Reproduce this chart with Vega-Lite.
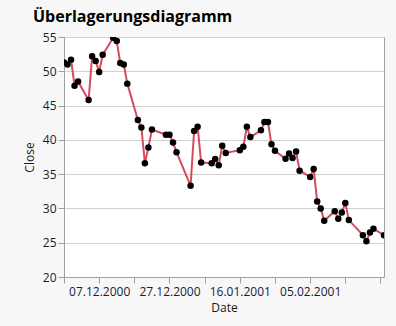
{
  "$schema": "https://vega.github.io/schema/vega-lite/v6.json",
  "width": 320,
  "height": 240,
  "autosize": {"type": "none"},
  "padding": {"left": 64, "top": 37, "right": 12, "bottom": 49},
  "background": "#f7f7f7",
  "title": {
    "text": "Überlagerungsdiagramm",
    "anchor": "start",
    "frame": "group",
    "dx": -31,
    "offset": 6,
    "font": "Open Sans",
    "fontSize": 16,
    "fontWeight": "bold",
    "color": "#000000"
  },
  "config": {
    "view": {"fill": "white", "stroke": "#a0a0a0", "strokeWidth": 1},
    "axis": {
      "labelFont": "Open Sans",
      "labelFontSize": 12,
      "labelColor": "#1a1a3a",
      "titleFont": "Open Sans",
      "titleFontSize": 12,
      "titleFontWeight": "normal",
      "titleColor": "#1a1a1a",
      "domainColor": "#a0a0a0",
      "tickColor": "#a0a0a0",
      "gridColor": "#d0d0d0"
    }
  },
  "data": {
    "values": [
      {"Date": "2000-11-27", "Close": 51.3},
      {"Date": "2000-11-28", "Close": 51.0},
      {"Date": "2000-11-29", "Close": 51.7},
      {"Date": "2000-11-30", "Close": 47.9},
      {"Date": "2000-12-01", "Close": 48.5},
      {"Date": "2000-12-04", "Close": 45.8},
      {"Date": "2000-12-05", "Close": 52.2},
      {"Date": "2000-12-06", "Close": 51.5},
      {"Date": "2000-12-07", "Close": 49.9},
      {"Date": "2000-12-08", "Close": 52.4},
      {"Date": "2000-12-11", "Close": 54.9},
      {"Date": "2000-12-12", "Close": 54.4},
      {"Date": "2000-12-13", "Close": 51.2},
      {"Date": "2000-12-14", "Close": 51.0},
      {"Date": "2000-12-15", "Close": 48.2},
      {"Date": "2000-12-18", "Close": 42.9},
      {"Date": "2000-12-19", "Close": 41.8},
      {"Date": "2000-12-20", "Close": 36.6},
      {"Date": "2000-12-21", "Close": 38.9},
      {"Date": "2000-12-22", "Close": 41.5},
      {"Date": "2000-12-26", "Close": 40.75},
      {"Date": "2000-12-27", "Close": 40.75},
      {"Date": "2000-12-28", "Close": 39.6},
      {"Date": "2000-12-29", "Close": 38.2},
      {"Date": "2001-01-02", "Close": 33.3},
      {"Date": "2001-01-03", "Close": 41.3},
      {"Date": "2001-01-04", "Close": 41.9},
      {"Date": "2001-01-05", "Close": 36.7},
      {"Date": "2001-01-08", "Close": 36.6},
      {"Date": "2001-01-09", "Close": 37.2},
      {"Date": "2001-01-10", "Close": 36.3},
      {"Date": "2001-01-11", "Close": 39.15},
      {"Date": "2001-01-12", "Close": 38.1},
      {"Date": "2001-01-16", "Close": 38.5},
      {"Date": "2001-01-17", "Close": 39.0},
      {"Date": "2001-01-18", "Close": 41.9},
      {"Date": "2001-01-19", "Close": 40.4},
      {"Date": "2001-01-22", "Close": 41.4},
      {"Date": "2001-01-23", "Close": 42.6},
      {"Date": "2001-01-24", "Close": 42.6},
      {"Date": "2001-01-25", "Close": 39.35},
      {"Date": "2001-01-26", "Close": 38.4},
      {"Date": "2001-01-29", "Close": 37.25},
      {"Date": "2001-01-30", "Close": 38.0},
      {"Date": "2001-01-31", "Close": 37.35},
      {"Date": "2001-02-01", "Close": 38.3},
      {"Date": "2001-02-02", "Close": 35.5},
      {"Date": "2001-02-05", "Close": 34.6},
      {"Date": "2001-02-06", "Close": 35.75},
      {"Date": "2001-02-07", "Close": 31.0},
      {"Date": "2001-02-08", "Close": 30.0},
      {"Date": "2001-02-09", "Close": 28.2},
      {"Date": "2001-02-12", "Close": 29.6},
      {"Date": "2001-02-13", "Close": 28.5},
      {"Date": "2001-02-14", "Close": 29.4},
      {"Date": "2001-02-15", "Close": 30.8},
      {"Date": "2001-02-16", "Close": 28.3},
      {"Date": "2001-02-20", "Close": 26.1},
      {"Date": "2001-02-21", "Close": 25.2},
      {"Date": "2001-02-22", "Close": 26.5},
      {"Date": "2001-02-23", "Close": 27.05},
      {"Date": "2001-02-26", "Close": 26.1}
    ]
  },
  "encoding": {
    "x": {
      "field": "Date",
      "type": "temporal",
      "title": "Date",
      "scale": {
        "type": "utc",
        "domain": [
          {"year": 2000, "month": 11, "date": 27, "utc": true},
          {"year": 2001, "month": 2, "date": 26, "utc": true}
        ]
      },
      "axis": {
        "values": [
          {"year": 2000, "month": 11, "date": 27, "utc": true},
          {"year": 2000, "month": 12, "date": 7, "utc": true},
          {"year": 2000, "month": 12, "date": 17, "utc": true},
          {"year": 2000, "month": 12, "date": 27, "utc": true},
          {"year": 2001, "month": 1, "date": 6, "utc": true},
          {"year": 2001, "month": 1, "date": 16, "utc": true},
          {"year": 2001, "month": 1, "date": 26, "utc": true},
          {"year": 2001, "month": 2, "date": 5, "utc": true},
          {"year": 2001, "month": 2, "date": 15, "utc": true},
          {"year": 2001, "month": 2, "date": 25, "utc": true}
        ],
        "labelExpr": "(round((time(datum.value) - 975283200000) / 86400000) % 20 == 10 && round((time(datum.value) - 975283200000) / 86400000) < 80) ? utcFormat(datum.value, '%d.%m.%Y') : ''",
        "labelOverlap": false,
        "labelFlush": false,
        "grid": false,
        "tickSize": 6,
        "labelPadding": 3,
        "titlePadding": 5
      }
    },
    "y": {
      "field": "Close",
      "type": "quantitative",
      "title": "Close",
      "scale": {"domain": [20, 55], "nice": false, "zero": false},
      "axis": {
        "values": [20, 25, 30, 35, 40, 45, 50, 55],
        "grid": true,
        "tickSize": 6,
        "labelPadding": 2,
        "titlePadding": 6
      }
    }
  },
  "layer": [
    {"mark": {"type": "line", "color": "#d64a5e", "strokeWidth": 2, "clip": true}},
    {"mark": {"type": "point", "filled": true, "color": "#000000", "opacity": 1, "size": 42, "clip": true}}
  ]
}
